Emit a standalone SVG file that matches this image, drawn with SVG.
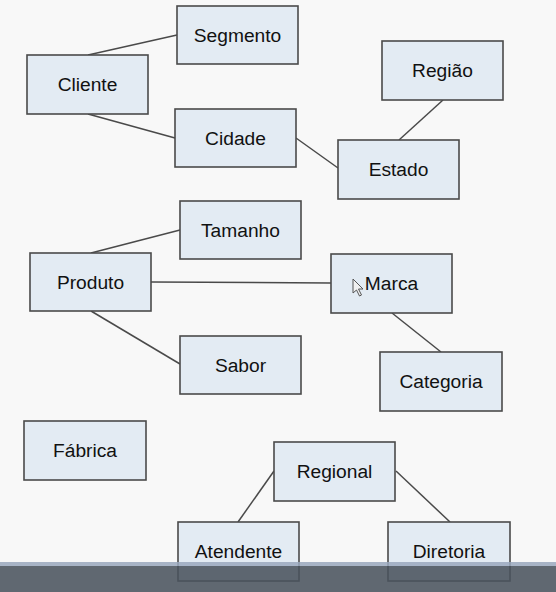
<svg xmlns="http://www.w3.org/2000/svg" width="556" height="592" viewBox="0 0 556 592">
<style>
.box{fill:#e3ebf3;stroke:#4a4a4a;stroke-width:1.6}
.lbl{font-family:"Liberation Sans",Arial,sans-serif;font-size:19.2px;fill:#111;text-anchor:middle}
.con{stroke:#4a4a4a;stroke-width:1.5;fill:none}
</style>
<rect width="556" height="592" fill="#f8f8f8"/>
<g id="connectors">
<line class="con" x1="88" y1="55" x2="177" y2="35"/>
<line class="con" x1="88" y1="114" x2="175" y2="138"/>
<line class="con" x1="296" y1="138" x2="338" y2="168"/>
<line class="con" x1="443" y1="100" x2="399" y2="140"/>
<line class="con" x1="91" y1="253" x2="180" y2="230"/>
<line class="con" x1="151" y1="282" x2="331" y2="283"/>
<line class="con" x1="91" y1="311" x2="180" y2="364"/>
<line class="con" x1="392" y1="313" x2="441" y2="352"/>
<line class="con" x1="274" y1="471" x2="238" y2="522"/>
<line class="con" x1="396" y1="471" x2="450" y2="522"/>
</g>
<g id="segmento"><rect class="box" x="177" y="6" width="121" height="58"/><text class="lbl" x="237.5" y="42">Segmento</text></g>
<g id="cliente"><rect class="box" x="27" y="55" width="121" height="59"/><text class="lbl" x="87.5" y="91">Cliente</text></g>
<g id="cidade"><rect class="box" x="175" y="109" width="121" height="58"/><text class="lbl" x="235.5" y="145">Cidade</text></g>
<g id="regiao"><rect class="box" x="382" y="41" width="121" height="59"/><text class="lbl" x="442.5" y="77">Região</text></g>
<g id="estado"><rect class="box" x="338" y="140" width="121" height="59"/><text class="lbl" x="398.5" y="176">Estado</text></g>
<g id="tamanho"><rect class="box" x="180" y="201" width="121" height="58"/><text class="lbl" x="240.5" y="237">Tamanho</text></g>
<g id="produto"><rect class="box" x="30" y="253" width="121" height="58"/><text class="lbl" x="90.5" y="289">Produto</text></g>
<g id="sabor"><rect class="box" x="180" y="336" width="121" height="58"/><text class="lbl" x="240.5" y="372">Sabor</text></g>
<g id="marca"><rect class="box" x="331" y="254" width="121" height="59"/><text class="lbl" x="391.5" y="290">Marca</text></g>
<g id="categoria"><rect class="box" x="380" y="352" width="122" height="59"/><text class="lbl" x="441" y="388">Categoria</text></g>
<g id="fabrica"><rect class="box" x="24" y="421" width="122" height="59"/><text class="lbl" x="85" y="457">Fábrica</text></g>
<g id="regional"><rect class="box" x="274" y="442" width="121" height="59"/><text class="lbl" x="334.5" y="478">Regional</text></g>
<g id="atendente"><rect class="box" x="178" y="522" width="121" height="59"/><text class="lbl" x="238.5" y="558">Atendente</text></g>
<g id="diretoria"><rect class="box" x="388" y="522" width="122" height="59"/><text class="lbl" x="449" y="558">Diretoria</text></g>
<path d="M353 279 L353 293 L356.5 290 L359.5 296 L361.5 295 L358.5 289 L363 289 Z" fill="#f0f0f0" stroke="#555" stroke-width="1"/>
<rect x="0" y="562" width="556" height="4" fill="#9aa8bd" opacity="0.85"/>
<rect x="0" y="566" width="556" height="26" fill="#4a535d" opacity="0.88"/>
</svg>
